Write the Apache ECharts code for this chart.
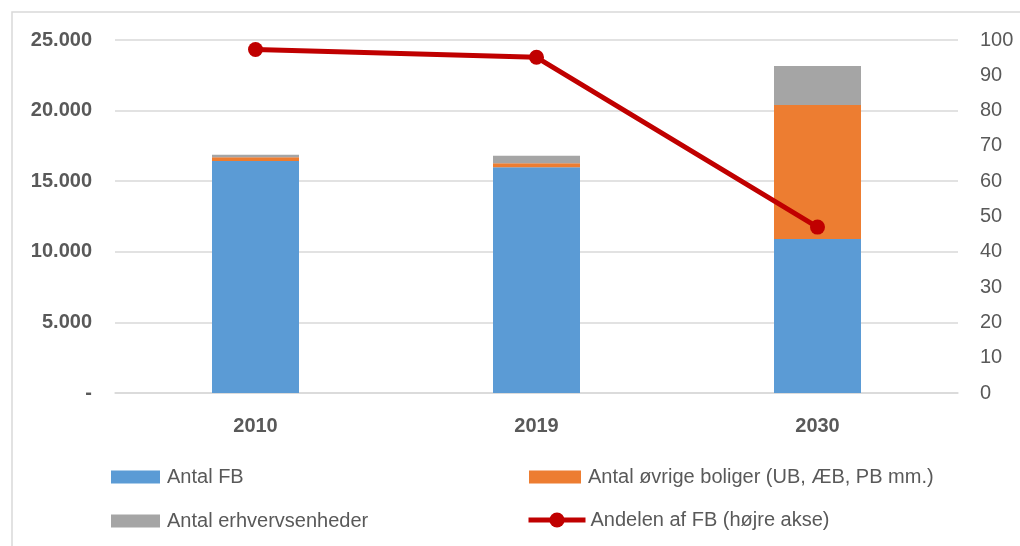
<!DOCTYPE html>
<html>
<head>
<meta charset="utf-8">
<script src="https://cdn.jsdelivr.net/npm/echarts@6/dist/echarts.min.js"></script>
<style>
  html, body { margin: 0; padding: 0; background: #fff; }
  #chart { width: 1020px; height: 546px; }
</style>
</head>
<body>
<div id="chart"></div>
<script>
// data
const years = ['2010', '2019', '2030']
const antalFB = [16430, 15980, 10900]
const antalOevrige = [260, 290, 9500]
const antalErhverv = [185, 540, 2760]
const andelFB = [97.3, 95.1, 47.0]

const leftTicks = { min: 0, max: 25000, interval: 5000 }
const rightTicks = { min: 0, max: 100, interval: 10 }

const txt = '#595959'
const font = '"Liberation Sans", Arial, sans-serif'

// 25000 -> "25.000", 0 -> "-"
function fmtThousands(v) {
  if (v === 0) return '-'
  return String(v).replace(/\B(?=(\d{3})+(?!\d))/g, '.')
}

function legendAt(item, left, top, w, h, gap) {
  return {
    data: [item],
    left: left,
    top: top,
    padding: 0,
    itemWidth: w,
    itemHeight: h,
    textStyle: { color: txt, fontSize: 20, fontFamily: font, padding: [0, 0, 0, gap] }
  }
}

const chart = echarts.init(document.getElementById('chart'))
const option = {
  animation: false,
  textStyle: { fontFamily: font },
  graphic: [{
    type: 'rect',
    shape: { x: 12, y: 12, width: 1040, height: 600 },
    style: { fill: 'none', stroke: '#D9D9D9', lineWidth: 1.5 },
    silent: true
  }],
  grid: { left: 115, right: 62, top: 40, bottom: 153 },
  legend: [
    legendAt({ name: 'Antal FB', icon: 'rect' }, 111, 467, 49, 13, 2),
    legendAt({ name: 'Antal øvrige boliger (UB, ÆB, PB mm.)', icon: 'rect' }, 529, 467, 52, 13, 2),
    legendAt({ name: 'Antal erhvervsenheder', icon: 'rect' }, 111, 511, 49, 13, 2),
    legendAt({ name: 'Andelen af FB (højre akse)', lineStyle: { width: 5 } }, 526, 510, 57, 19, 0)
  ],
  xAxis: {
    type: 'category',
    data: years,
    axisTick: { show: false },
    axisLine: { lineStyle: { color: '#D9D9D9', width: 1.5 } },
    axisLabel: { color: txt, fontSize: 20, fontWeight: 'bold', margin: 23 }
  },
  yAxis: [{
    type: 'value',
    min: leftTicks.min,
    max: leftTicks.max,
    interval: leftTicks.interval,
    axisLine: { show: false },
    axisTick: { show: false },
    splitLine: { lineStyle: { color: '#D9D9D9', width: 1.5 } },
    axisLabel: { color: txt, fontSize: 20, fontWeight: 'bold', margin: 23, formatter: fmtThousands }
  }, {
    type: 'value',
    min: rightTicks.min,
    max: rightTicks.max,
    interval: rightTicks.interval,
    axisLine: { show: false },
    axisTick: { show: false },
    splitLine: { show: false },
    axisLabel: { color: txt, fontSize: 20, margin: 22 }
  }],
  series: [{
    name: 'Antal FB',
    type: 'bar',
    stack: 'enheder',
    barWidth: 87,
    itemStyle: { color: '#5B9BD5' },
    data: antalFB
  }, {
    name: 'Antal øvrige boliger (UB, ÆB, PB mm.)',
    type: 'bar',
    stack: 'enheder',
    itemStyle: { color: '#ED7D31' },
    data: antalOevrige
  }, {
    name: 'Antal erhvervsenheder',
    type: 'bar',
    stack: 'enheder',
    itemStyle: { color: '#A5A5A5' },
    data: antalErhverv
  }, {
    name: 'Andelen af FB (højre akse)',
    type: 'line',
    yAxisIndex: 1,
    symbol: 'circle',
    symbolSize: 15,
    lineStyle: { color: '#C00000', width: 5 },
    itemStyle: { color: '#C00000' },
    data: andelFB
  }]
}
chart.setOption(option)
window.addEventListener('resize', () => {
  chart.resize()
})
</script>
</body>
</html>
